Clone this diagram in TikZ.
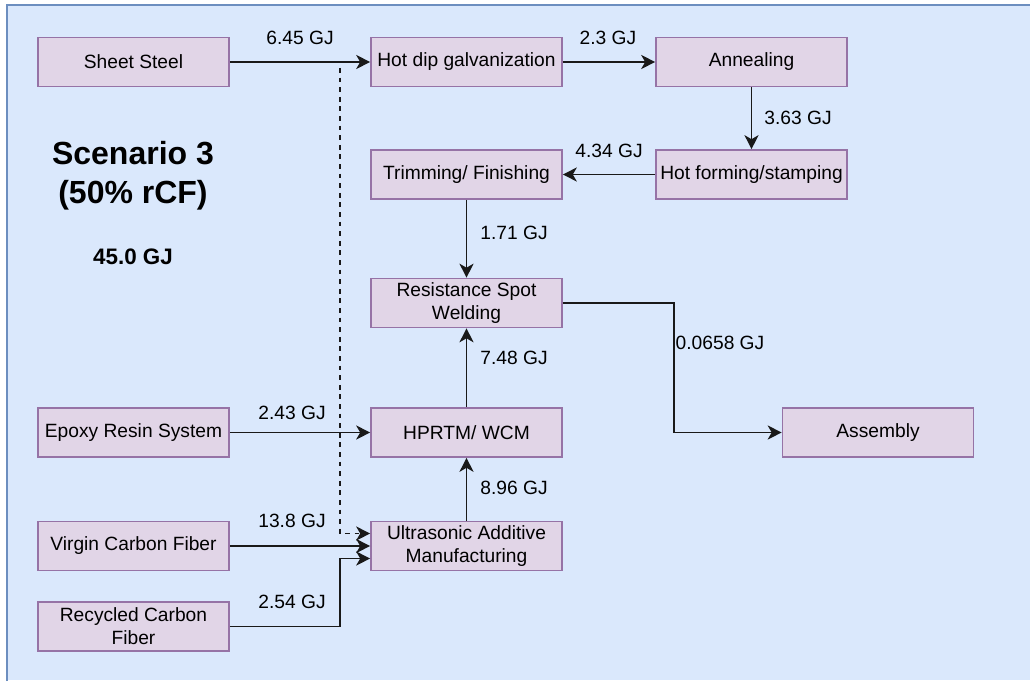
\documentclass[tikz,border=0pt]{standalone}
\usepackage{fontspec}
\setmainfont{Liberation Sans}
\usetikzlibrary{arrows.meta,calc}
\definecolor{bgfill}{HTML}{DAE8FC}
\definecolor{bgline}{HTML}{6C8EBF}
\definecolor{boxfill}{HTML}{E1D5E7}
\definecolor{boxline}{HTML}{9673A6}
\begin{document}
\begin{tikzpicture}[x=1pt,y=-1pt,
  proc/.style={draw=boxline,fill=boxfill,line width=1.6pt,minimum width=191pt,
    minimum height=49pt,inner sep=0pt,align=center,font=\fontsize{19.2}{23}\selectfont},
  lbl/.style={font=\fontsize{19.2}{23}\selectfont,inner sep=0pt},
  flow/.style={line width=1.7pt,draw=black!90,
    -{Stealth[length=14pt,width=14pt,inset=4pt]}},
  ghost/.style={flow,dash pattern=on 4.8pt off 4.8pt},
]
\useasboundingbox (0,0) rectangle (1030,682);
\clip (0,0) rectangle (1030,682);

% panel: filled area with its left and top edges drawn
\path[fill=bgfill] (7,5) rectangle (1045,680);
\draw[bgline,line width=1.6pt] (7,681) -- (7,5) -- (1045,5);

% heading
\node[font=\bfseries\fontsize{32}{39}\selectfont,align=center,inner sep=0pt]
  (title) at (133,176) {Scenario 3\\(50\% rCF)};
\node[font=\bfseries\fontsize{22.4}{27}\selectfont,inner sep=0pt]
  (total) at (133,257) {45.0 GJ};

% process steps
\node[proc] (steel)    at (133.5,62)   {Sheet Steel};
\node[proc] (hdg)      at (466.5,62)   {Hot dip galvanization};
\node[proc] (anneal)   at (751.5,62)   {Annealing};
\node[proc] (trim)     at (466.5,174.5){Trimming/ Finishing};
\node[proc] (hotform)  at (751.5,174.5){Hot forming/stamping};
\node[proc] (rsw)      at (466.5,303)  {Resistance Spot\\Welding};
\node[proc] (epoxy)    at (133.5,432.5){Epoxy Resin System};
\node[proc] (hprtm)    at (466.5,432.5){HPRTM/ WCM};
\node[proc] (assembly) at (878,432.5)  {Assembly};
\node[proc] (vcf)      at (133.5,546)  {Virgin Carbon Fiber};
\node[proc] (uam)      at (466.5,546)  {Ultrasonic Additive\\Manufacturing};
\node[proc] (rcf)      at (133.5,626.5){Recycled Carbon\\Fiber};

% energy labels
\node[lbl] (e645)  at (300,38)  {6.45 GJ};
\node[lbl] (e23)   at (608,38)  {2.3 GJ};
\node[lbl] (e363)  at (798,118) {3.63 GJ};
\node[lbl] (e434)  at (609,151) {4.34 GJ};
\node[lbl] (e171)  at (514,233) {1.71 GJ};
\node[lbl] (e0658) at (720,343) {0.0658 GJ};
\node[lbl] (e748)  at (514,358) {7.48 GJ};
\node[lbl] (e243)  at (292,413) {2.43 GJ};
\node[lbl] (e896)  at (514,488) {8.96 GJ};
\node[lbl] (e138)  at (292,521) {13.8 GJ};
\node[lbl] (e254)  at (292,602) {2.54 GJ};

% flows
\draw[flow] (steel) -- (hdg);
\draw[flow] (hdg) -- (anneal);
\draw[flow] (anneal) -- (hotform);
\draw[flow] (hotform) -- (trim);
\draw[flow] (trim) -- (rsw);
\draw[flow] (hprtm) -- (rsw);
\draw[flow] (uam) -- (hprtm);
\draw[flow] (epoxy) -- (hprtm);
\draw[flow] (vcf) -- (uam);
\draw[flow] (rsw.east) -- ++(111,0) |- (assembly.west);

\coordinate (rjoin) at (340,558.5);
\draw[flow] (rcf.east) -| (rjoin) -- (rjoin -| uam.west);

\coordinate (dtop) at (340,68);
\coordinate (djoin) at (340,533.5);
\draw[ghost] (dtop) -- (djoin) -- (djoin -| uam.west);
\end{tikzpicture}
\end{document}
